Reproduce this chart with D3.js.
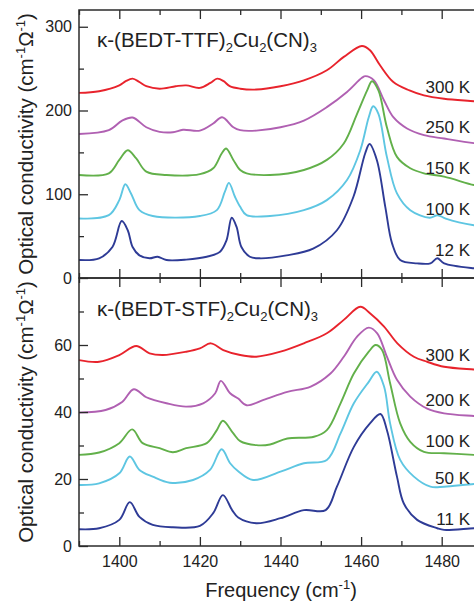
<!DOCTYPE html>
<html>
<head>
<meta charset="utf-8">
<script src="https://cdn.jsdelivr.net/npm/d3@7"></script>
<style>
  html, body { margin: 0; padding: 0; background: #fff; }
  svg { display: block; font-family: Arial, "Liberation Sans", Helvetica, sans-serif; }
</style>
</head>
<body>
<svg id="chart" width="474" height="602"></svg>
<script>
// ---------- DATA ----------
const xTicksMajor = [1400, 1420, 1440, 1460, 1480];
const xTicksMinor = [1390, 1410, 1430, 1450, 1470, 1490];
const topYMajor = [0, 100, 200, 300];
const topYMinor = [50, 150, 250];
const botYMajor = [0, 20, 40, 60];
const botYMinor = [10, 30, 50, 70];

const topTitle = "κ-(BEDT-TTF)";
const botTitle = "κ-(BEDT-STF)";

const topLabels = ["300 K", "250 K", "150 K", "100 K", "12 K"];
const botLabels = ["300 K", "200 K", "100 K", "50 K", "11 K"];
const seriesColors = ["#e8232c", "#b060b2", "#62b04a", "#5ec6e2", "#2e3b96"];

// κ-(BEDT-TTF)2Cu2(CN)3  [frequency, conductivity]
const ttf300 = [[1390,221],[1395,223],[1400,230],[1401.6,235],[1403.3,238],[1405,234],[1406.7,229],[1410,226],[1414,229],[1416.6,230],[1420,227],[1422.6,233],[1424.3,238],[1425.9,235],[1427.4,229],[1430,226],[1434,225],[1440,229],[1445.8,236],[1451.5,248],[1455.7,264],[1460.2,277],[1462.2,272],[1464.7,254],[1468,234],[1472,224],[1475.6,218],[1480.6,214],[1488,211],[1490,210]];
const ttf250 = [[1390,172],[1397.4,176.5],[1400.7,188],[1403.3,191.6],[1406.7,180],[1410,174.5],[1413.3,174],[1415.8,177],[1420,176],[1423.3,184.5],[1425.5,192],[1428.3,180],[1430,176.5],[1434,176],[1440,180],[1445.8,188],[1451.5,204],[1456.5,222],[1460.2,239],[1461.1,241],[1463.2,236],[1465.7,212],[1468,192],[1471.4,178.5],[1475.6,170.5],[1480.6,166.5],[1488,161],[1490,160]];
const ttf150 = [[1390,123],[1397.4,125],[1400,141],[1402.1,152.6],[1404.2,142.7],[1406.7,127],[1411.7,123],[1420,124],[1423.3,131],[1425.4,148.7],[1426.5,154.7],[1428.3,141],[1430,129],[1431.6,125],[1437.4,123],[1445.8,129],[1451.5,141],[1455.7,160.6],[1459,196],[1461.5,224],[1462.7,235],[1464.3,224],[1466.4,180],[1468.9,144.6],[1472.2,131],[1475.6,125],[1480.6,121],[1488,111],[1490,110]];
const ttf100 = [[1390,71],[1397.4,75],[1400,93],[1401.5,112],[1402.9,101],[1405,81],[1408.3,74],[1420,74],[1424.2,81],[1426.2,103],[1427.2,113.6],[1428.7,97],[1430,85],[1431.6,75],[1437.4,74],[1445.8,81],[1451.5,93],[1456.5,117],[1459.8,152.6],[1461.9,192],[1463,205],[1464.3,196],[1466.4,144.6],[1468.9,101],[1472.2,81],[1477,72],[1479,75],[1481,71],[1488,63],[1490,62]];
const ttf12 = [[1390,21.5],[1395,23.5],[1398.3,37],[1400.6,68],[1402.1,57],[1403.3,37],[1405,27],[1407.5,23.5],[1409.5,25.4],[1411.7,21.5],[1416.6,22],[1421.7,25.4],[1425,31.4],[1426.6,45],[1427.9,72],[1429.1,61],[1430.3,37],[1432.4,25.4],[1434.8,23.5],[1441.5,27],[1448.1,35],[1454,57],[1458.1,97],[1461,148.7],[1462.1,160],[1463.9,141],[1466,85],[1467.7,41],[1469.7,21.5],[1473.9,17.5],[1477.2,17.5],[1478.9,23.5],[1480.6,17.5],[1488,11.6],[1490,11]];

// κ-(BEDT-STF)2Cu2(CN)3
const stf300 = [[1390,55.5],[1395,55],[1400,57],[1404.2,59.7],[1407.5,57.5],[1410.8,57],[1416.6,58],[1420,59],[1422.7,60.5],[1425.8,58.5],[1430,57],[1434,56.5],[1440,58],[1445.8,60.5],[1451.5,63.5],[1455.7,67.5],[1459.8,71.4],[1462.2,69.5],[1465.7,65.5],[1469,60.5],[1473.1,56.5],[1476.4,55],[1480.6,53.5],[1488,52.7],[1490,52.5]];
const stf200 = [[1390,39.8],[1396.6,40.6],[1400.7,43],[1403.6,46.8],[1406.7,44.4],[1411.7,42.6],[1416.6,41.6],[1420.8,42.6],[1423.8,45.6],[1425.2,49.3],[1427.5,45.6],[1429.5,44],[1431.6,42],[1435.8,43.6],[1441.7,46],[1447.5,47.6],[1452.4,51.5],[1455.7,56.5],[1459,62.5],[1461.9,65.2],[1464,63.5],[1466.4,56.5],[1468.9,49.6],[1472.2,44.6],[1476.4,41],[1480.6,39.6],[1488,38.8],[1490,38.6]];
const stf100 = [[1390,27.2],[1395,27.9],[1400,30.7],[1403.2,34.8],[1405.8,30.7],[1410,29.2],[1413.3,28],[1416.6,29.2],[1421.7,30.7],[1424.2,34.6],[1425.7,37.4],[1428.3,33.6],[1430,31.3],[1434,30.1],[1437.4,30.3],[1441.7,32.1],[1448.3,32.6],[1451.5,34.6],[1454.9,42.6],[1458.2,51.5],[1461.9,58],[1463.6,60],[1465.2,58.5],[1467.2,48.6],[1469.7,36.6],[1472.2,31.1],[1475.6,28.1],[1480.6,27.7],[1488,27.2],[1490,27]];
const stf50 = [[1390,18.2],[1395,18.7],[1400,21.7],[1402.6,26.7],[1405,22.7],[1408.3,20.7],[1412.5,18.9],[1418.3,19.7],[1422.5,22.7],[1425.4,28.9],[1427.5,24.7],[1429.5,22.3],[1433.2,19.7],[1440,22.2],[1445.8,24.7],[1451.5,25.7],[1454.9,33.6],[1458.2,42.6],[1461.9,49],[1463.9,52],[1465.7,47.6],[1467.2,36.6],[1469.7,25.7],[1473.1,20.7],[1477.2,17.7],[1480.6,17.7],[1488,18.5],[1490,18.5]];
const stf11 = [[1390,5],[1395,5.3],[1400,7.8],[1402.6,13.1],[1405,8.7],[1408.3,6.3],[1413.3,5.6],[1420,6],[1423.3,9.8],[1425.7,15.2],[1428,10.7],[1429.5,8.5],[1434,6.8],[1440,8.3],[1445.8,10.7],[1451.2,10.7],[1454,17.7],[1458.2,29.6],[1462.2,36.6],[1464.8,39.4],[1466.4,34.6],[1468.9,20.7],[1470.6,12.7],[1473.9,7.8],[1478.9,5.3],[1480.6,4.8],[1488,5.3],[1490,5.3]];

const topSeries = [ttf300, ttf250, ttf150, ttf100, ttf12];
const botSeries = [stf300, stf200, stf100, stf50, stf11];

// ---------- LAYOUT ----------
const svg = d3.select("#chart");
const left = 79, right = 482;
const x = d3.scaleLinear().domain([1390, 1490]).range([left, right]);

const panels = [
  { top: 10, bottom: 278, domain: [0, 320], major: topYMajor, minor: topYMinor,
    series: topSeries, labels: topLabels, labelY: [93, 133, 174, 215, 256],
    title: topTitle, titleY: 47, xLabels: false },
  { top: 278, bottom: 546, domain: [0, 80], major: botYMajor, minor: botYMinor,
    series: botSeries, labels: botLabels, labelY: [361, 406, 447, 484, 525],
    title: botTitle, titleY: 316, xLabels: true }
];

const frameColor = "#2b2b2b";

panels.forEach(p => {
  const y = d3.scaleLinear().domain(p.domain).range([p.bottom, p.top]);
  const g = svg.append("g");

  // curves
  const line = d3.line().x(d => x(d[0])).y(d => y(d[1])).curve(d3.curveCatmullRom.alpha(0.5));
  p.series.forEach((s, i) => {
    g.append("path").datum(s).attr("d", line)
      .attr("fill", "none").attr("stroke", seriesColors[i])
      .attr("stroke-width", 1.9).attr("stroke-linejoin", "round");
  });

  // axes helper
  function styleAxis(sel) {
    sel.select(".domain").remove();
    sel.selectAll(".tick line").attr("stroke", frameColor).attr("stroke-width", 1.3);
    sel.selectAll(".tick text").attr("fill", "#222").style("font-size", "16px")
      .style("font-family", "Arial, 'Liberation Sans', sans-serif");
  }

  // bottom ticks (inward)
  const bAx = d3.axisBottom(x).tickValues(xTicksMajor).tickSizeInner(-9).tickSizeOuter(0).tickPadding(10)
    .tickFormat(p.xLabels ? d3.format("d") : () => "");
  g.append("g").attr("transform", `translate(0,${p.bottom})`).call(bAx).call(styleAxis);
  g.append("g").attr("transform", `translate(0,${p.bottom})`)
    .call(d3.axisBottom(x).tickValues(xTicksMinor).tickSizeInner(-5).tickSizeOuter(0).tickFormat(() => ""))
    .call(styleAxis);
  // top ticks (inward)
  g.append("g").attr("transform", `translate(0,${p.top})`)
    .call(d3.axisTop(x).tickValues(xTicksMajor).tickSizeInner(-9).tickSizeOuter(0).tickFormat(() => ""))
    .call(styleAxis);
  g.append("g").attr("transform", `translate(0,${p.top})`)
    .call(d3.axisTop(x).tickValues(xTicksMinor).tickSizeInner(-5).tickSizeOuter(0).tickFormat(() => ""))
    .call(styleAxis);
  // left ticks (inward)
  g.append("g").attr("transform", `translate(${left},0)`)
    .call(d3.axisLeft(y).tickValues(p.major).tickSizeInner(-9).tickSizeOuter(0).tickPadding(7).tickFormat(d3.format("d")))
    .call(styleAxis);
  g.append("g").attr("transform", `translate(${left},0)`)
    .call(d3.axisLeft(y).tickValues(p.minor).tickSizeInner(-5).tickSizeOuter(0).tickFormat(() => ""))
    .call(styleAxis);

  // frame
  g.append("rect").attr("x", left).attr("y", p.top)
    .attr("width", right - left + 10).attr("height", p.bottom - p.top)
    .attr("fill", "none").attr("stroke", frameColor).attr("stroke-width", 1.5);

  // title with subscripts
  const t = g.append("text").attr("x", 97).attr("y", p.titleY)
    .attr("fill", "#222").style("font-size", "20.5px");
  t.append("tspan").text(p.title);
  t.append("tspan").attr("dy", 5).style("font-size", "13px").text("2");
  t.append("tspan").attr("dy", -5).text("Cu");
  t.append("tspan").attr("dy", 5).style("font-size", "13px").text("2");
  t.append("tspan").attr("dy", -5).text("(CN)");
  t.append("tspan").attr("dy", 5).style("font-size", "13px").text("3");

  // temperature labels
  p.labels.forEach((lab, i) => {
    g.append("text").attr("x", 470).attr("y", p.labelY[i]).attr("text-anchor", "end")
      .attr("fill", "#222").style("font-size", "17px").text(lab);
  });

  // y axis label
  const cy = (p.top + p.bottom) / 2;
  const yl = g.append("text").attr("transform", `translate(33,${cy}) rotate(-90)`)
    .attr("text-anchor", "middle").attr("fill", "#222").style("font-size", "20.5px");
  yl.append("tspan").text("Optical conductivity (cm");
  yl.append("tspan").attr("dy", -8).style("font-size", "13px").text("-1");
  yl.append("tspan").attr("dy", 8).text("Ω");
  yl.append("tspan").attr("dy", -8).style("font-size", "13px").text("-1");
  yl.append("tspan").attr("dy", 8).text(")");
});

// x axis label
const xl = svg.append("text").attr("x", 281).attr("y", 597).attr("text-anchor", "middle")
  .attr("fill", "#222").style("font-size", "20px");
xl.append("tspan").text("Frequency (cm");
xl.append("tspan").attr("dy", -8).style("font-size", "13px").text("-1");
xl.append("tspan").attr("dy", 8).text(")");
</script>
</body>
</html>
